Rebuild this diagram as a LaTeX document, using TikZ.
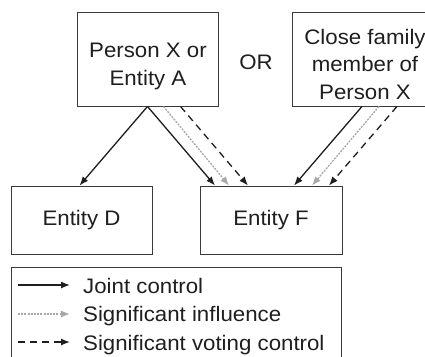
\documentclass[tikz,border=0pt]{standalone}
\usepackage{fontspec}
\setmainfont{Liberation Sans}[FakeStretch=1.06]
\usetikzlibrary{arrows.meta}
\definecolor{ink}{HTML}{1E1E1E}
\definecolor{boxline}{HTML}{3A3A3A}
\definecolor{infl}{HTML}{A8A8A8}
\tikzset{
  box/.style={draw=boxline, line width=0.9pt, inner sep=0pt},
  lbl/.style={text=ink, inner sep=0pt, align=center, font=\fontsize{21}{27.5}\selectfont},
  joint/.style={draw=ink, line width=1.3pt, -{Latex[length=9pt,width=7pt]}},
  influence/.style={draw=infl, line width=1.3pt, dash pattern=on 2pt off 1.2pt, -{Latex[length=9pt,width=7pt]}},
  voting/.style={draw=ink, line width=1.3pt, dash pattern=on 7pt off 5pt, -{Latex[length=9pt,width=7pt]}},
}
\begin{document}
\begin{tikzpicture}[x=1pt,y=-1pt]
\useasboundingbox (0,0) rectangle (425,356);
\node[box, minimum width=141pt, minimum height=94pt] (A) at (147.5,59) {};
\node[lbl, anchor=north] (At) at (148,43) {Person X or\\Entity A};
\node[box, minimum width=148pt, minimum height=94pt] (C) at (366,59) {};
\node[lbl, anchor=north] (Ct) at (365,29) {Close family\\member of\\Person X};
\node[lbl] (or) at (256,62.5) {OR};
\node[box, minimum width=141pt, minimum height=68pt] (D) at (81.5,220) {};
\node[lbl, anchor=base] (Dt) at (81.5,225) {Entity D};
\node[box, minimum width=142pt, minimum height=68pt] (F) at (271,220) {};
\node[lbl, anchor=base] (Ft) at (271,225) {Entity F};
% legend
\node[box, minimum width=330pt, minimum height=103pt] (L) at (176,318.5) {};
\coordinate (l1s) at (18,285); \coordinate (l1e) at (70,285);
\coordinate (l2s) at (18,314); \coordinate (l2e) at (70,314);
\coordinate (l3s) at (18,342); \coordinate (l3e) at (70,342);
\draw[joint] (l1s) -- (l1e);
\draw[influence] (l2s) -- (l2e);
\draw[voting] (l3s) -- (l3e);
\node[lbl, anchor=base west] (t1) at (83,293) {Joint control};
\node[lbl, anchor=base west] (t2) at (83,321.5) {Significant influence};
\node[lbl, anchor=base west] (t3) at (83,350) {Significant voting control};
% connectors
\draw[joint] (A.south) -- ([xshift=-2pt]D.north);
\draw[joint] (A.south) -- ([xshift=-56pt]F.north);
\draw[influence] ([xshift=16pt]A.south) -- ([xshift=-42pt]F.north);
\draw[voting] ([xshift=33pt]A.south) -- ([xshift=-23pt]F.north);
\draw[joint] ([xshift=-4pt]C.south) -- ([xshift=23pt]F.north);
\draw[influence] ([xshift=13pt]C.south) -- ([xshift=41pt]F.north);
\draw[voting] ([xshift=31pt]C.south) -- ([xshift=58pt]F.north);
\end{tikzpicture}
\end{document}
